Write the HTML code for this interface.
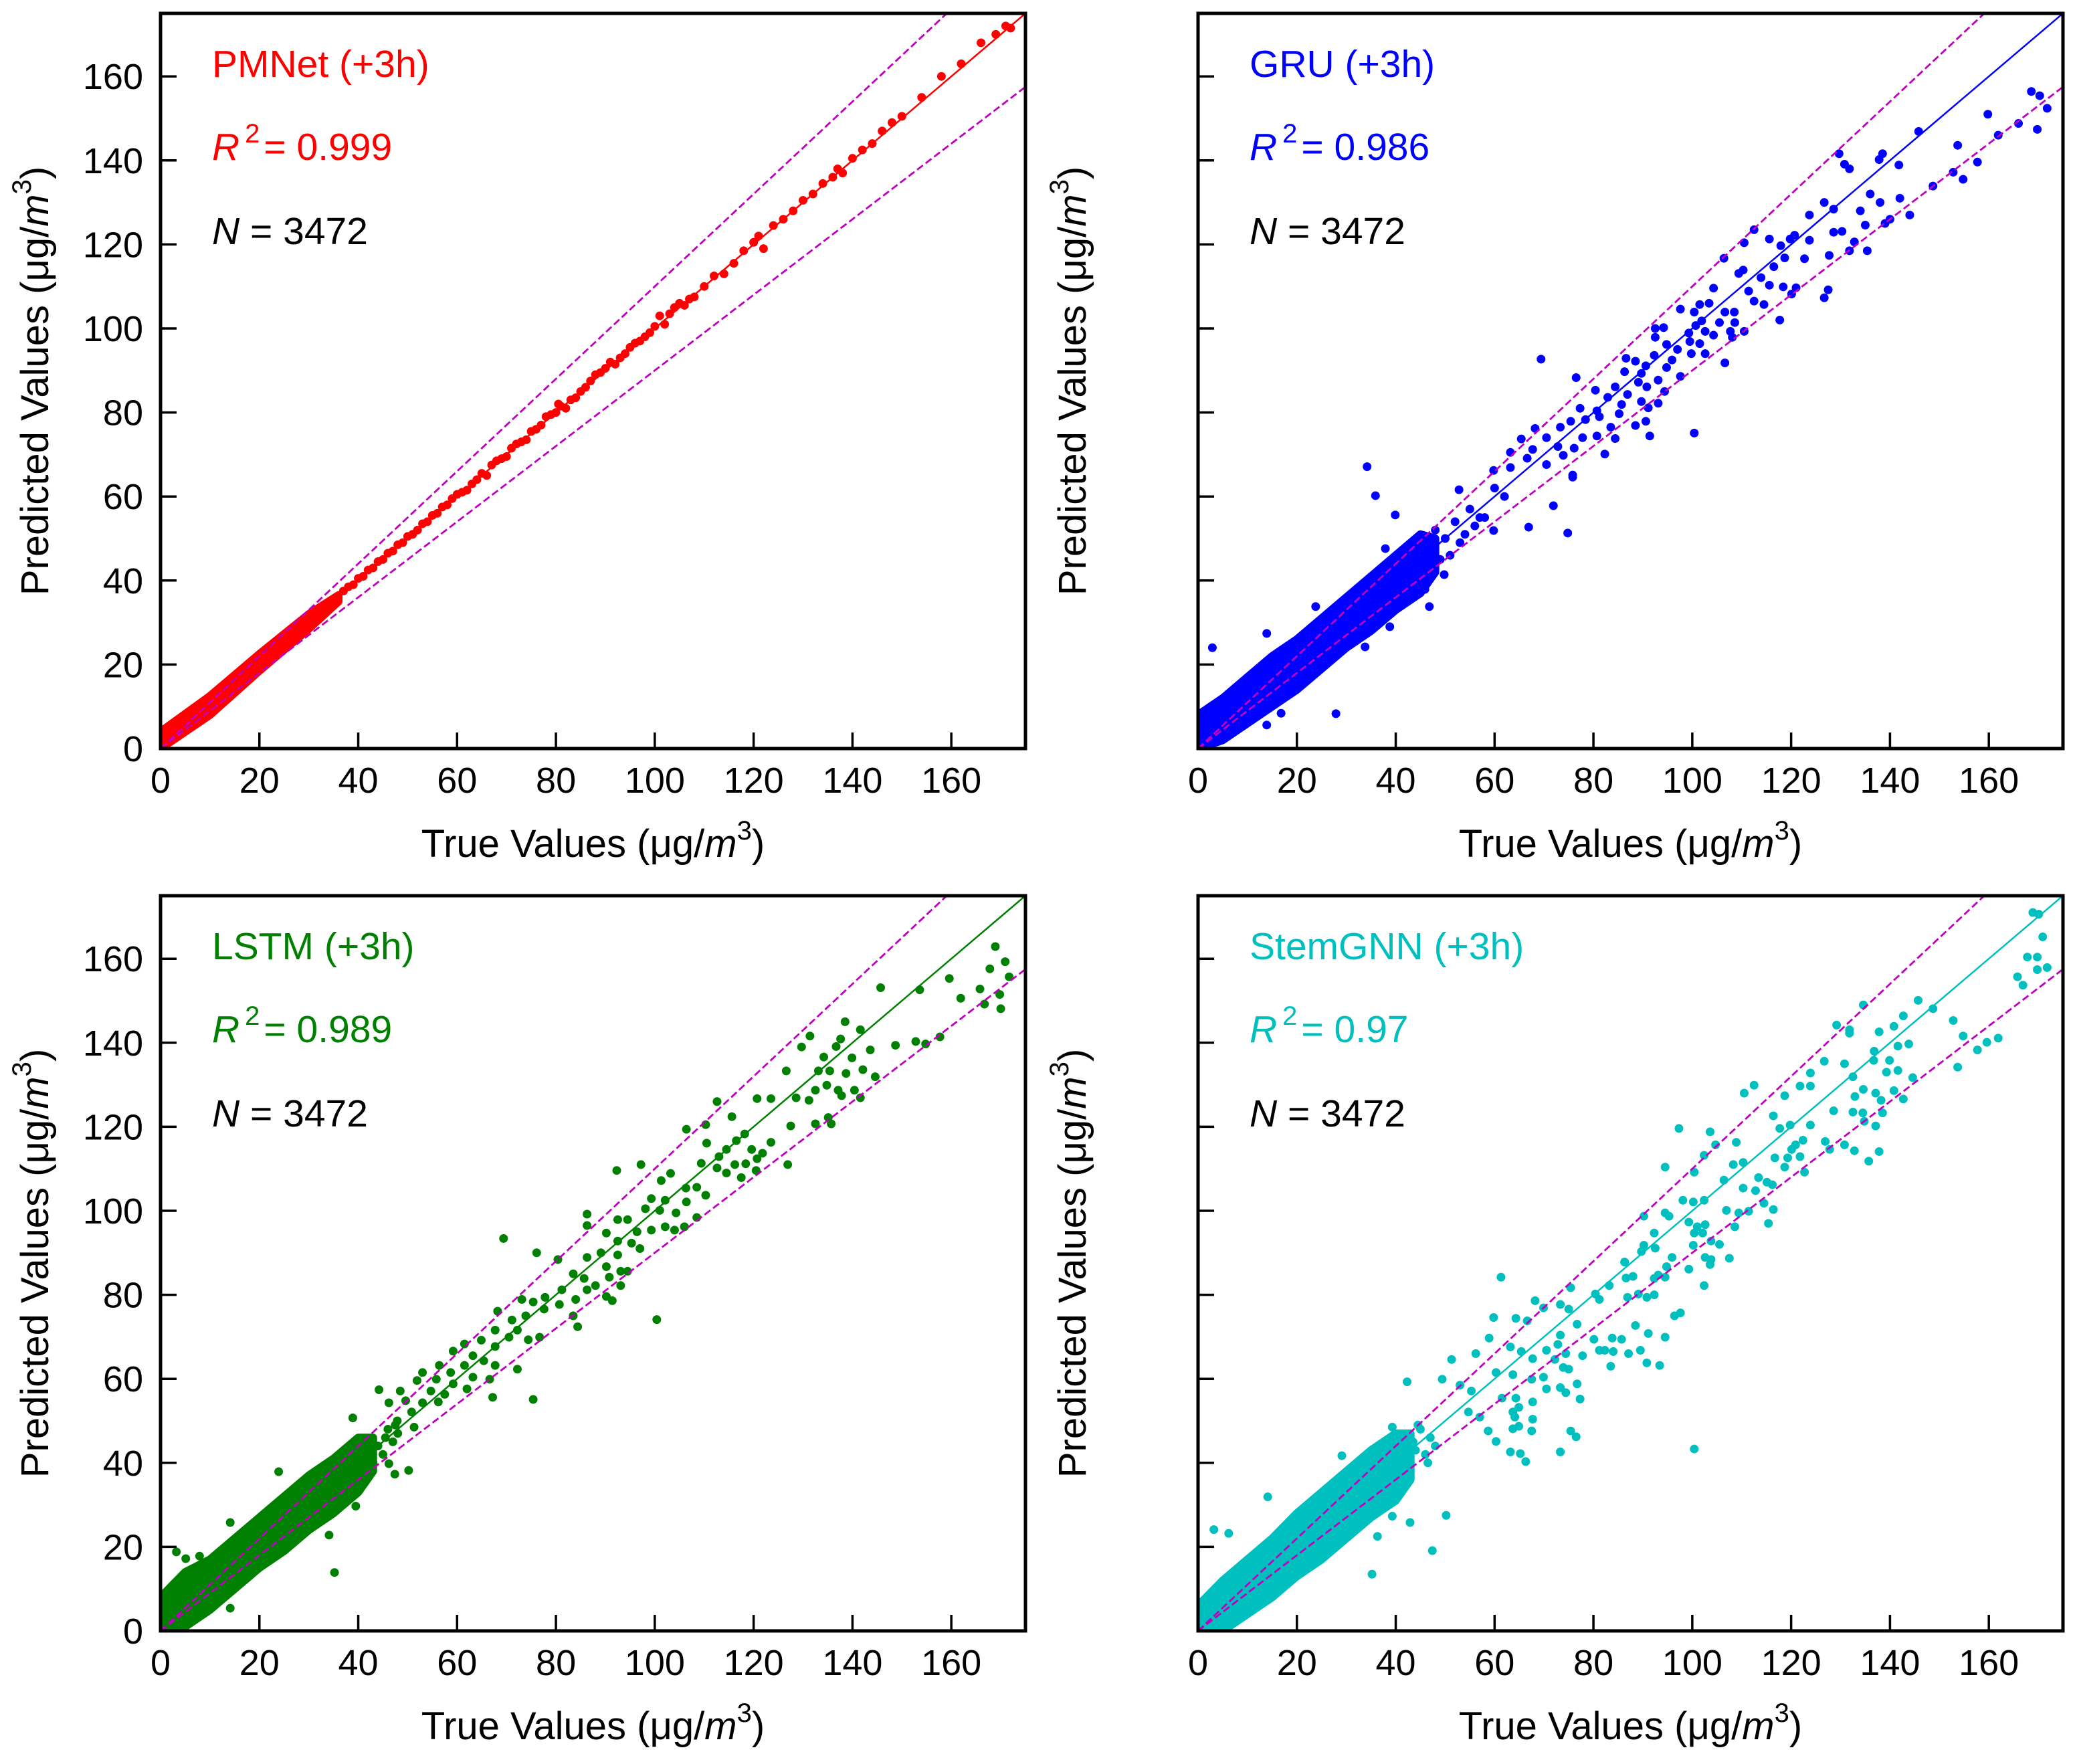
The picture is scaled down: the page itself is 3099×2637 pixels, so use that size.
<!DOCTYPE html>
<html><head><meta charset="utf-8"><style>
html,body{margin:0;padding:0;background:#fff}
svg{display:block;font-family:"Liberation Sans",Arial,sans-serif}
</style></head><body>
<svg id="fig" width="3099" height="2637" viewBox="0 0 3099 2637" xmlns="http://www.w3.org/2000/svg"></svg>
<script>
// ---------- data ----------
const axisMax = 175;
const tickVals = [0,20,40,60,80,100,120,140,160];
const modelNames = ["PMNet (+3h)","GRU (+3h)","LSTM (+3h)","StemGNN (+3h)"];
const r2Labels = ["0.999","0.986","0.989","0.97"];
const nLabels = ["3472","3472","3472","3472"];

// PMNet
const pmBandX = [0,10,20,30,36];
const pmBandLo = [0,8,18.5,28.5,35];
const pmBandHi = [4,12.5,22.5,32,36.5];
const pmTrue = [37,38,39,40,41,42,43,44,45,46,47,48,49,50,51,52,53,54,55,56,57,58,59,60,61,62,63,64,65,66,67,68,69,70,71,72,73,74,75,76,77,78,79,80,80.5,81,82,83,84,85,86,87,88,89,90,91,92,93,94,95,96,97,98,99,100,101,102,103,104,105,106,107,108,110,112,114,116,118,120,121,122,124,126,128,130,132,134,136,137,138,140,142,144,146,148,150,154,158,162,166,169,171,172];
const pmPred = [37.5,38.5,39,40.5,41,42.5,43,44.5,45,46.5,47,48.5,49,50.5,51,52,53.5,54,55.5,56,57.5,58,59.5,60.5,61,61.5,63,64,65.5,65,67.5,68.5,69,69.5,71.5,72.5,73,73.5,75.5,76,77,79,79.5,80,82,81.5,81,83,83.5,85,86,87.5,89,89.5,90.5,92,91.5,93,94,95.5,96.5,97,98,99,100.5,103,101,103.5,105,106,105.5,107,107.5,110,112.5,113,115.5,118.5,120.5,122,119,124.5,126,128,130.5,132,134.5,136,138,137,140.5,142.5,144,147,149,150.5,155,160,163,168,170,172,171.5];

// GRU
const gruBandX = [0,5,10,15,20,25,30,35,40,45,48];
const gruBandLo = [0,2,6,10,14,19,24,28,33,37,42];
const gruBandHi = [8,12,17,22,26,31,36,41,46,51,50];
const gruTrue = [168.6,170.3,171.8,159.8,169.8,166,161.9,145.8,153.7,157.7,154.8,152.8,148.7,129.7,130.8,131.8,138.5,137.8,141.8,134,136,138,140,142,144,135,139,126.7,128.6,123.7,128.6,130.3,132.8,131.8,135.4,127.7,112.5,110.5,115.6,117.9,119.8,120.7,123.7,106.4,109.4,110.3,116.5,118.7,122.7,113.9,115.6,118.4,120.1,121,127.5,126.7,104.3,111.4,112.5,114.5,117.7,97.6,100.4,101.5,103.4,106.6,108.5,101.9,100.7,105.5,108.6,92.5,94.2,99.3,102.6,104.3,107.7,110.5,92.5,94.8,99.5,101.5,108.1,97,99.8,102.6,106.6,86.6,88.5,90.6,92.3,95.9,86.3,89.7,94.8,97.6,76.5,89.1,90.8,93.1,94.4,80.4,84.4,82.9,86.9,89.7,93.1,77.3,80.7,85.7,91.1,75.4,78.4,81.2,85.2,83.5,88.5,90.6,69.4,100.4,91.4,84.4,82.3,68.2,65.4,70.5,73.3,77.8,80.7,63.2,67.7,72.8,76.1,59.8,63.2,66.6,70.5,73.9,75.8,34.2,35.9,39.9,52.8,37.9,23.8,13.9,2.9,46.8,38.8,33.8,27.9,13.9,16.8,66.9,74.8,59.8,71.9,75.8,49.8,45.9,55,58,60,62,52,56,48,49,50,51,47,53,54,57];
const gruPred = [156.4,155.4,152.4,151,147.4,148.8,146,146.9,143.6,139.6,135.5,137.2,133.9,141.6,139.1,138,141.6,140.2,138.9,128,132,130,126,131,127,124.6,125,130,128.4,127,122.9,123.1,120.6,118.5,118.5,117.4,123.5,120.4,121.3,119.7,121.3,122.2,121,116.7,113.1,113.9,114.7,116.8,116.6,112.1,110.3,109.9,108.2,109.7,109.2,107.3,109.6,108.9,106.5,105.7,102,104.6,103.9,105.7,106,103.9,103.9,101.8,100.7,101.4,101.4,100,100.2,98.9,99.3,98.4,99.3,99.3,97.9,96.2,96.9,96.4,97.9,95,94,94,91.8,92.9,92.2,91.1,93.6,92.5,89.7,89.3,90.7,88.6,88.3,87.2,86.1,87.7,85,85.3,86.1,83.6,84.3,82.6,82.2,81,80.4,81.9,81.1,77.9,78.3,79,79.7,76.5,76.9,77.9,92.7,75.1,74.4,73.8,70.1,76.2,73.7,74,76.5,74,74.4,70.5,71.2,71.9,71.5,66.2,66.9,69.1,67.6,69.8,65.1,67.1,60.2,55.6,61.6,47.6,33.8,27.4,24,33.8,29,24.2,8.3,5.6,8.4,52.7,51.3,51.9,57.8,64.6,41.4,37.9,57,55,62,60,54,53,52,45,50,46,44,49,51,55];

// LSTM
const lstmBandX = [0,5,10,15,20,25,30,35,40,43];
const lstmBandLo = [0,1,5,10,15,19,24,28,33,38];
const lstmBandHi = [8,14,17,22,27,32,37,41,46,46];
const lstmTrue = [168.9,170.9,167.8,171.7,169.8,170,166.7,165.8,161.9,159.6,157.7,154.8,152.8,148.7,153.6,145.7,138.5,131.4,129.7,126.6,136.7,137.6,141.6,143.6,134.2,139.9,133.1,135.4,138.7,142.1,144.6,132.5,134.8,137.1,140.4,128.6,131.2,137.8,141.6,132.5,135.7,135.1,127.5,112.6,120.7,123.5,115.6,110.3,106.4,118.2,116.5,123.5,110.5,114.5,119.6,121.8,113,109.4,116.2,118.4,120.7,126.9,112.6,114.5,117.5,120.5,97.2,92.3,103.2,101.3,106.3,108.5,110.3,99.3,102.1,106.4,98.1,101,104.3,108.5,86.3,92.5,94.5,86.3,99.3,102.1,104,106,96.4,69.4,90.2,92.5,95.3,97,76.1,80.4,86.3,89.1,92.5,90.2,93.1,94.5,90.8,93.1,83.5,85.7,88,90.2,91.4,81.2,84,86.3,77.8,75.4,73.1,68.2,71.1,73.9,77.6,80.7,83.5,84.4,100.4,67.7,70.5,74.4,76.7,64.9,67.7,72.2,59.2,61.5,63.2,65.4,67.7,61.5,56.4,58.7,63.2,66.6,72.2,53,55.8,59.2,62,51.9,54.7,57.5,48.5,44.2,46.2,49.6,53,56.2,67.2,75.4,50.8,47.9,51.3,38.9,46.2,50.2,47.4,23.9,39.5,34.1,35.2,14.1,14.1,3.2,5.1,7.9,44,45,46,47,48,43,45.5,47.5];
const lstmPred = [162.9,159.3,157.6,155.7,151.5,148.1,149.2,152.8,150.6,155.3,141.4,139.7,140.3,139.4,152.6,153.1,145,141.6,139,133.3,139.1,140.9,143.1,138.3,136.6,136.4,133.3,133.3,132.7,133.6,131.9,128.7,129.9,128.7,128.7,126.9,126.3,127.4,126.9,120.7,120.7,122.2,120.2,126,126.7,126.7,122.4,120.5,119.4,118.3,116.7,116.3,116.1,114.6,114.6,113.7,112.9,111.3,111,111.2,112.4,111,110.2,109,107.9,109.6,111,109.6,108.9,107.2,105.4,105.6,103.7,102.9,102.5,102.1,100.5,100.1,99.5,98.4,99.2,97.9,97.9,96.5,95.4,96.2,95.4,96.2,95,93.4,94.7,92.8,92.3,91,90,88.4,88.9,90,89.5,86.7,85.6,85.6,84.2,82.2,85,83.9,82.2,79.6,78.6,81.2,78.9,81.2,79.4,78.3,78.9,76.1,74,75,76.6,77.7,75,72.4,74.1,71.6,69.9,69.3,69.9,69.2,67.7,71.6,66.6,68.3,65.5,64.3,63.2,63.2,63.2,61.5,60.4,59.9,62.3,61.5,59.9,58.8,57.6,59.6,57.1,56.3,57.1,57.4,54.3,54.8,54.3,54.5,55.6,55.1,52.1,50,48.5,50.7,39.8,38.2,37.3,37.9,29.7,22.8,13.9,25.8,5.4,18.8,17.2,17.8,44,42,48,45,47,40,46,49];

// StemGNN
const stemBandX = [0,5,10,15,20,25,30,35,40,43];
const stemBandLo = [0,0,4,8,13,17,22,27,31,36];
const stemBandHi = [6,12,17,22,28,33,38,43,47,47];
const stemTrue = [168.9,170.1,170.9,167.8,169.8,171.8,169.8,165.8,166.9,161.9,159.6,157.7,154.8,152.8,153.7,148.7,145.7,142.7,134.6,129.2,131.8,131.8,137.8,140.8,143.8,141.6,136.8,126.7,130.8,136.7,139.9,141.6,139.3,144.6,132.5,123.9,121.8,123.9,134.6,137.1,132.9,138.2,140.8,142.7,118.7,110.5,112.5,128.6,132.5,134.5,138.5,134.8,137.1,119.8,123.9,117.7,116.4,126.9,127.8,130.8,132.8,137.8,135.7,122.4,120.9,120.1,116.7,119.3,121.8,118.7,122.7,97.3,103.6,104.7,102.4,108.9,108.3,110.3,94.5,100.4,106.4,113.4,115.1,116.2,110.3,112.8,98.1,100.2,102.4,106.9,109.4,111.4,114.5,116.4,95.3,94.5,90.2,99.3,101,102.6,108.6,115.4,92.3,100.4,102.1,103.8,105.5,90.2,92.5,100.2,86.3,89.7,95.9,102.6,103.8,107.5,94.8,99.3,103.6,88,93.1,86.6,92.3,94.5,102.4,61.3,83.2,75.4,80.4,86.9,89.1,90.8,92.3,81.2,68.2,69.9,73.3,75,64.3,66.6,59.8,97.6,96.4,76.7,80.1,83.8,85.7,88.5,91.1,94.5,73.3,72.8,58.9,63.2,65.4,67.7,70.5,72.2,74.4,77.8,81.2,82.3,84,87.1,89.5,83.5,90.8,93.4,56.2,60.3,63.7,67.5,69.9,73.9,75,70.5,73.3,76.7,77.3,74.4,42.3,51.3,49.4,53,55.3,61.5,64.3,67.7,64.9,63.7,64.1,67.7,54.7,57,58.7,63.7,64.9,67.5,60.3,75.4,76.5,63.2,65.2,73.3,66.3,100.4,50.2,47.4,35.2,36.3,14.1,3.2,6.2,39.3,42.9,29.1,39.3,44,45,46,47,48,44.5,46.5,43.5];
const stemPred = [171,170.6,165.2,160.4,160.4,157.9,157.4,155.7,153.7,141.1,140.1,138.3,141.6,145.3,134.2,148.1,150.1,146.4,149,144.2,143.1,142.3,142.6,143.9,139.7,139.2,138,135.6,135,135.8,135.8,133.4,133,131.7,131.9,132.8,129.7,129.7,128.9,128,127.2,126.3,128.6,126.6,127.4,128,129.9,123.8,123.5,123.3,123.3,121.3,120.2,120.4,120.4,119.6,122.6,116.5,114.6,115.7,114.3,114.1,111.8,116.8,115.7,114.6,112.6,112.6,112.9,110.4,109.2,119.6,118.8,115.7,113.2,116.3,111,111.5,110.4,109.2,107.3,107.9,106.8,106.2,105.4,104.8,102.5,102.1,102.5,100.1,99.5,99.9,101.8,100.3,98.7,99.5,98.7,97.3,96.2,96.7,96.2,97,94.7,94.7,94.7,92.8,92,91.8,91.1,91.8,87.8,90.3,88.9,88.9,88.4,88.7,86.7,86.1,87.2,84.4,84.7,84,83.9,84.2,82.2,84.2,82.2,81.7,80.2,79.4,80.2,79.4,80,78.9,78.6,76.9,77.7,76.6,74.4,73.8,74.6,75.7,75,73,69.4,69.7,69.4,72.7,70.8,69.9,70.4,68.2,69.7,67.6,66.5,64.8,66.8,64.6,66,65.5,66.8,66.8,66.5,66,66.8,63,63.8,63.2,66,61.5,61,59.9,60.4,62.7,62.3,57.6,57.9,58.8,55.2,56.7,59.3,64.6,59.9,58.5,57.1,55.4,55.4,54.5,53.2,52.1,50.9,50.4,52.1,50.9,47.6,48.1,48.7,47.6,45.1,47.6,46.2,42.6,42.2,42.6,40.3,43.3,27.5,19.1,13.5,22.5,31.9,24.1,23.2,27.3,25.8,41.7,48.5,43,48,42,46,44,49,40,45];

// ---------- drawing ----------
const NS = "http://www.w3.org/2000/svg";
const svg = document.getElementById("fig");
const W = 1293, H = 1099;
function mk(tag, attrs, parent){
  const e = document.createElementNS(NS, tag);
  for (const k in attrs) e.setAttribute(k, attrs[k]);
  (parent||svg).appendChild(e);
  return e;
}
const panels = [
  {x0:240, y0:20, color:"#ff0000", bx:pmBandX, lo:pmBandLo, hi:pmBandHi, tx:pmTrue, py:pmPred, ylab:true, key:"pmnet"},
  {x0:1791, y0:20, color:"#0000ff", bx:gruBandX, lo:gruBandLo, hi:gruBandHi, tx:gruTrue, py:gruPred, ylab:false, key:"gru"},
  {x0:240, y0:1339, color:"#008000", bx:lstmBandX, lo:lstmBandLo, hi:lstmBandHi, tx:lstmTrue, py:lstmPred, ylab:true, key:"lstm"},
  {x0:1791, y0:1339, color:"#00bfbf", bx:stemBandX, lo:stemBandLo, hi:stemBandHi, tx:stemTrue, py:stemPred, ylab:false, key:"stemgnn"}
];

panels.forEach((p, i) => {
  const sx = v => p.x0 + v / axisMax * W;
  const sy = v => p.y0 + H - v / axisMax * H;
  const g = mk("g", {});
  
  
  const cid = "clip" + i;
  const cp = mk("clipPath", {id: cid}, g);
  mk("rect", {x: p.x0, y: p.y0, width: W, height: H}, cp);
  const plot = mk("g", {"clip-path": "url(#" + cid + ")"}, g);

  // dense cluster envelope
  let pts = [];
  for (let k = 0; k < p.bx.length; k++) pts.push(sx(p.bx[k]) + "," + sy(p.hi[k]));
  for (let k = p.bx.length - 1; k >= 0; k--) pts.push(sx(p.bx[k]) + "," + sy(p.lo[k]));
  const band = mk("polygon", {points: pts.join(" "), fill: p.color, stroke: p.color, "stroke-width": 12, "stroke-linejoin": "round"}, plot);
  
  

  // scatter points
  for (let k = 0; k < p.tx.length; k++) {
    const c = mk("circle", {cx: sx(p.tx[k]), cy: sy(p.py[k]), r: 6.5, fill: p.color}, plot);
    
    
  }

  // reference lines
  const l1 = mk("line", {x1: sx(0), y1: sy(0), x2: sx(axisMax), y2: sy(axisMax), stroke: p.color, "stroke-width": 2.5}, plot);
  
  
  const l2 = mk("line", {x1: sx(0), y1: sy(0), x2: sx(axisMax), y2: sy(axisMax * 1.1), stroke: "#bf00bf", "stroke-width": 2.8, "stroke-dasharray": "11,5"}, plot);
  
  
  const l3 = mk("line", {x1: sx(0), y1: sy(0), x2: sx(axisMax), y2: sy(axisMax * 0.9), stroke: "#bf00bf", "stroke-width": 2.8, "stroke-dasharray": "11,5"}, plot);
  
  

  // frame
  const fr = mk("rect", {x: p.x0, y: p.y0, width: W, height: H, fill: "none", stroke: "#000", "stroke-width": 5}, g);
  
  

  // ticks
  tickVals.forEach(t => {
    const xt = mk("line", {x1: sx(t), y1: p.y0 + H, x2: sx(t), y2: p.y0 + H - 24, stroke: "#000", "stroke-width": 3.5}, g);
    
    
    const xl = mk("text", {x: sx(t), y: p.y0 + H + 66, "font-size": 54, "text-anchor": "middle", fill: "#000"}, g);
    xl.textContent = t;
    
    
    const yt = mk("line", {x1: p.x0, y1: sy(t), x2: p.x0 + 24, y2: sy(t), stroke: "#000", "stroke-width": 3.5}, g);
    
    
    if (p.ylab) {
      const yl = mk("text", {x: p.x0 - 26, y: sy(t) + 19, "font-size": 54, "text-anchor": "end", fill: "#000"}, g);
      yl.textContent = t;
      
      
    }
  });

  // axis titles
  const xa = mk("text", {x: p.x0 + W / 2, y: p.y0 + H + 162, "font-size": 58, "text-anchor": "middle", fill: "#000"}, g);
  xa.innerHTML = 'True Values (μg/<tspan font-style="italic">m</tspan><tspan font-size="40" dy="-26">3</tspan><tspan dy="26">)</tspan>';
  
  
  const ycx = p.x0 - 168, ycy = p.y0 + H / 2;
  const ya = mk("text", {x: ycx, y: ycy, "font-size": 58, "text-anchor": "middle", fill: "#000", transform: "rotate(-90 " + ycx + " " + ycy + ")"}, g);
  ya.innerHTML = 'Predicted Values (μg/<tspan font-style="italic">m</tspan><tspan font-size="40" dy="-26">3</tspan><tspan dy="26">)</tspan>';
  
  

  // annotations
  const t1 = mk("text", {x: p.x0 + 77, y: p.y0 + 95, "font-size": 57, fill: p.color}, g);
  t1.textContent = modelNames[i];
  
  
  const t2 = mk("text", {x: p.x0 + 77, y: p.y0 + 219, "font-size": 57, fill: p.color}, g);
  t2.innerHTML = '<tspan font-style="italic">R</tspan><tspan font-size="40" dx="8" dy="-26">2</tspan><tspan dy="26" dx="6">= ' + r2Labels[i] + '</tspan>';
  
  
  const t3 = mk("text", {x: p.x0 + 77, y: p.y0 + 345, "font-size": 57, fill: "#000"}, g);
  t3.innerHTML = '<tspan font-style="italic">N</tspan> = ' + nLabels[i];
  
  
});
</script>
</body></html>
